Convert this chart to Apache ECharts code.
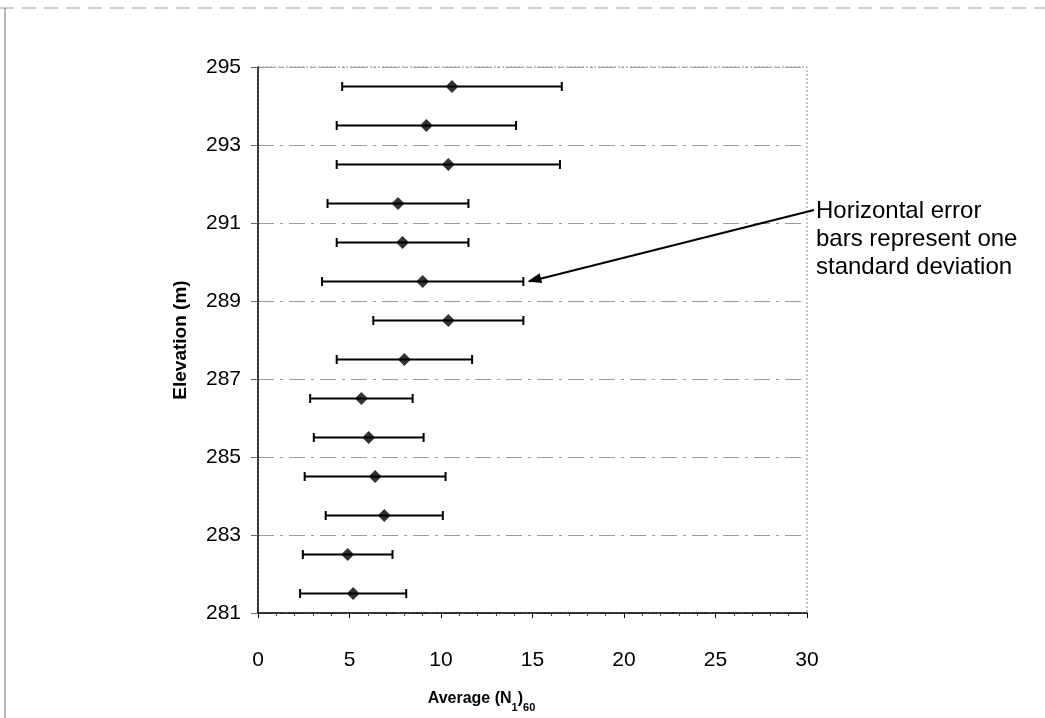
<!DOCTYPE html>
<html>
<head>
<meta charset="utf-8">
<title>Average (N1)60 vs Elevation</title>
<script src="https://cdn.jsdelivr.net/npm/echarts@6/dist/echarts.min.js"></script>
<style>
  html, body { margin: 0; padding: 0; background: #fff; }
  #chart { width: 1045px; height: 718px; }
</style>
</head>
<body>
<div id="chart"></div>
<script>
// Mid-layer elevations (m), average (N1)60 and one standard deviation
const elevations = [294.5, 293.5, 292.5, 291.5, 290.5, 289.5, 288.5, 287.5, 286.5, 285.5, 284.5, 283.5, 282.5, 281.5];
const meanN160   = [10.6, 9.2, 10.4, 7.65, 7.9, 9.0, 10.4, 8.0, 5.65, 6.05, 6.4, 6.9, 4.9, 5.2];
const stdDev     = [6.0, 4.9, 6.1, 3.85, 3.6, 5.5, 4.1, 3.7, 2.8, 3.0, 3.85, 3.2, 2.45, 2.9];

// Elevation axis range and label step
const elevMin = 281;
const elevMax = 295;
const elevStep = 2;
const xTicks = { min: 0, max: 30, step: 5 };

// Elevation axis is laid out relative to its bottom so labels land on odd values
const rel = v => v - elevMin;

const points = elevations.map((e, i) => [meanN160[i], rel(e)]);
const bars = elevations.map((e, i) => [meanN160[i] - stdDev[i], meanN160[i] + stdDev[i], rel(e)]);

const chart = echarts.init(document.getElementById('chart'), null, { renderer: 'canvas' });

const font = 'Liberation Sans, Arial, Helvetica, sans-serif';

chart.setOption({
  backgroundColor: '#ffffff',
  animation: false,
  grid: {
    left: 258, right: 238, top: 67, bottom: 105,
    show: true, borderColor: '#8a8a8a', borderWidth: 1, borderType: [2, 2]
  },
  xAxis: {
    type: 'value',
    min: xTicks.min, max: xTicks.max, interval: xTicks.step,
    name: '{b|Average (N}{s|1}{b|)}{s|60}',
    nameLocation: 'middle',
    nameGap: 78,
    nameTextStyle: {
      padding: [0, 102, 0, 0],
      rich: {
        b: { fontFamily: font, fontSize: 16, fontWeight: 'bold', color: '#000', lineHeight: 22, verticalAlign: 'top' },
        s: { fontFamily: font, fontSize: 11, fontWeight: 'bold', color: '#000', lineHeight: 22, verticalAlign: 'bottom', padding: [10, 0, 0, 0] }
      }
    },
    axisLine: { show: true, onZero: false, lineStyle: { color: '#000', width: 1.5 } },
    axisTick: { show: true, inside: false, length: 5, lineStyle: { color: '#000' } },
    minorTick: { show: true, splitNumber: 5, length: 3, lineStyle: { color: '#444' } },
    axisLabel: { fontFamily: font, fontSize: 21, color: '#000', margin: 37 },
    splitLine: { show: false }
  },
  yAxis: {
    type: 'value',
    min: rel(elevMin), max: rel(elevMax), interval: elevStep,
    name: 'Elevation (m)',
    nameLocation: 'middle',
    nameGap: 68,
    nameTextStyle: { fontFamily: font, fontSize: 19, fontWeight: 'bold', color: '#000' },
    axisLine: { show: true, onZero: false, lineStyle: { color: '#000', width: 1.5 } },
    axisTick: { show: true, inside: false, length: 7, lineStyle: { color: '#666' } },
    axisLabel: {
      fontFamily: font, fontSize: 21, color: '#000', margin: 17,
      formatter: v => String(v + elevMin)
    },
    splitLine: { show: true, lineStyle: { color: '#9a9a9a', width: 1.2, type: [16, 6, 3, 6] } }
  },
  series: [
    {
      // Horizontal error bars, mean ± one standard deviation
      type: 'custom',
      data: bars,
      encode: { x: [0, 1], y: 2 },
      z: 2,
      renderItem: (params, api) => {
        const a = api.coord([api.value(0), api.value(2)]);
        const b = api.coord([api.value(1), api.value(2)]);
        const cap = 4.5;
        const style = { stroke: '#000', lineWidth: 2 };
        return {
          type: 'group',
          children: [
            { type: 'line', shape: { x1: a[0], y1: a[1], x2: b[0], y2: b[1] }, style },
            { type: 'line', shape: { x1: a[0], y1: a[1] - cap, x2: a[0], y2: a[1] + cap }, style },
            { type: 'line', shape: { x1: b[0], y1: b[1] - cap, x2: b[0], y2: b[1] + cap }, style }
          ]
        };
      }
    },
    {
      type: 'scatter',
      data: points,
      symbol: 'diamond',
      symbolSize: 13,
      z: 3,
      itemStyle: { color: '#000' }
    }
  ]
});

// Annotation text and the arrow pointing at the 289.5 m error bar
const idx = elevations.indexOf(289.5);
const tip = chart.convertToPixel({ gridIndex: 0 }, [meanN160[idx] + stdDev[idx], rel(elevations[idx])]);
const textX = 816;
const textY = 197;
const startX = textX - 2, startY = textY + 13;
chart.setOption({
  graphic: [
    // scanned page frame
    { type: 'line', shape: { x1: 0, y1: 8, x2: 1045, y2: 8 }, style: { stroke: '#9a9a9a', lineWidth: 1.2, lineDash: [14, 8] }, silent: true },
    { type: 'line', shape: { x1: 5, y1: 8, x2: 5, y2: 718 }, style: { stroke: '#8a8a8a', lineWidth: 1.2 }, silent: true },
    {
      type: 'text',
      left: textX, top: textY,
      style: {
        text: 'Horizontal error\nbars represent one\nstandard deviation',
        font: '24px ' + font,
        fill: '#000',
        lineHeight: 28
      }
    },
    {
      type: 'line',
      shape: { x1: startX, y1: startY, x2: tip[0] + 6, y2: tip[1] },
      style: { stroke: '#000', lineWidth: 2.2 }
    },
    {
      type: 'polygon',
      shape: {
        points: (() => {
          const x2 = tip[0] + 4, y2 = tip[1];
          const ang = Math.atan2(startY - y2, startX - x2);
          const L = 14, W = 5;
          const bx = x2 + L * Math.cos(ang), by = y2 + L * Math.sin(ang);
          return [
            [x2, y2],
            [bx + W * Math.sin(ang), by - W * Math.cos(ang)],
            [bx - W * Math.sin(ang), by + W * Math.cos(ang)]
          ];
        })()
      },
      style: { fill: '#000' }
    }
  ]
});
</script>
</body>
</html>
